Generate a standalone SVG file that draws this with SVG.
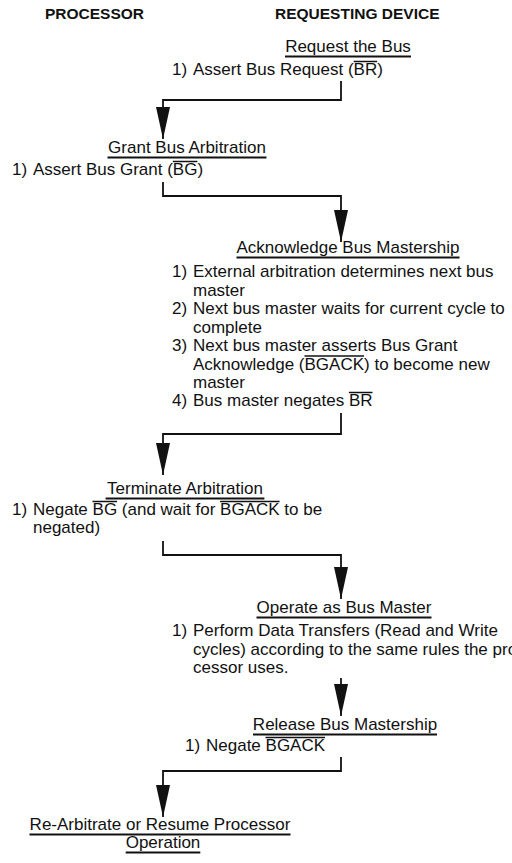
<svg xmlns="http://www.w3.org/2000/svg" width="512" height="863" viewBox="0 0 512 863">
<style>
text{font-family:"Liberation Sans",Arial,sans-serif;font-size:17px;fill:#111}
.hdr{font-weight:bold;font-size:15.5px}
.mid{text-anchor:middle}
.ul{stroke:#111;stroke-width:2}
.ol{stroke:#111;stroke-width:1.5}
.conn{fill:none;stroke:#111;stroke-width:1.8;marker-end:url(#arr)}
</style>
<defs>
<marker id="arr" markerUnits="userSpaceOnUse" viewBox="0 0 32 14" markerWidth="32" markerHeight="14" refX="32" refY="7" orient="auto">
<path d="M0,0 L32,7 L0,14 z" fill="#111"/>
</marker>
</defs>
<rect width="512" height="863" fill="#fff"/>
<g id="headers">
<text class="hdr" x="45" y="19">PROCESSOR</text>
<text class="hdr" x="275" y="19">REQUESTING DEVICE</text>
</g>
<g id="request">
<text class="mid" x="348" y="52">Request the Bus</text>
<line class="ul" x1="285" y1="56.5" x2="411" y2="56.5"/>
<text x="172" y="75">1)</text>
<text x="193" y="75">Assert Bus Request (BR)</text>
<line class="ol" x1="353.6" y1="61.5" x2="377.2" y2="61.5"/>
</g>
<g id="grant">
<text class="mid" x="187" y="153">Grant Bus Arbitration</text>
<line class="ul" x1="107.5" y1="157.5" x2="266.5" y2="157.5"/>
<text x="12" y="175">1)</text>
<text x="33" y="175">Assert Bus Grant (BG)</text>
<line class="ol" x1="172.8" y1="161.5" x2="197.4" y2="161.5"/>
</g>
<g id="acknowledge">
<text class="mid" x="348" y="253">Acknowledge Bus Mastership</text>
<line class="ul" x1="236.5" y1="257.5" x2="459.5" y2="257.5"/>
<text x="172" y="277">1)</text>
<text x="193" y="277">External arbitration determines next bus</text>
<text x="193" y="295.5">master</text>
<text x="172" y="314">2)</text>
<text x="193" y="314">Next bus master waits for current cycle to</text>
<text x="193" y="332.5">complete</text>
<text x="172" y="351">3)</text>
<text x="193" y="351">Next bus master asserts Bus Grant</text>
<text x="193" y="369.5">Acknowledge (BGACK) to become new</text>
<line class="ol" x1="304.5" y1="356" x2="364" y2="356"/>
<text x="193" y="388">master</text>
<text x="172" y="406">4)</text>
<text x="193" y="406">Bus master negates BR</text>
<line class="ol" x1="348.9" y1="392.5" x2="372.5" y2="392.5"/>
</g>
<g id="terminate">
<text class="mid" x="185" y="494">Terminate Arbitration</text>
<line class="ul" x1="105.6" y1="498.5" x2="264.4" y2="498.5"/>
<text x="12" y="515">1)</text>
<text x="33" y="515">Negate BG (and wait for BGACK to be</text>
<line class="ol" x1="92.5" y1="501.5" x2="117.1" y2="501.5"/>
<line class="ol" x1="220.1" y1="501.5" x2="279.6" y2="501.5"/>
<text x="33" y="533">negated)</text>
</g>
<g id="operate">
<text class="mid" x="344" y="613">Operate as Bus Master</text>
<line class="ul" x1="256.5" y1="617.5" x2="431.5" y2="617.5"/>
<text x="172" y="636">1)</text>
<text x="193" y="636">Perform Data Transfers (Read and Write</text>
<text x="193" y="654.5">cycles) according to the same rules the pro</text>
<text x="193" y="673">cessor uses.</text>
</g>
<g id="release">
<text class="mid" x="345" y="730">Release Bus Mastership</text>
<line class="ul" x1="253" y1="734.5" x2="437" y2="734.5"/>
<text x="185" y="751">1)</text>
<text x="206" y="751">Negate BGACK</text>
<line class="ol" x1="265.5" y1="737.5" x2="325" y2="737.5"/>
</g>
<g id="resume">
<text class="mid" x="160" y="830">Re-Arbitrate or Resume Processor</text>
<line class="ul" x1="29.5" y1="834.5" x2="290.5" y2="834.5"/>
<text class="mid" x="163" y="848">Operation</text>
<line class="ul" x1="125.7" y1="852.5" x2="200.3" y2="852.5"/>
</g>
<g id="connectors">
<path class="conn" d="M341,81 V100 H163 V139"/>
<path class="conn" d="M163,182 V196 H341 V242"/>
<path class="conn" d="M341,413 V434 H163 V475"/>
<path class="conn" d="M163,541 V555 H341 V599"/>
<path class="conn" d="M341,678 V716"/>
<path class="conn" d="M341,757 V771 H163 V817"/>
</g>
</svg>
